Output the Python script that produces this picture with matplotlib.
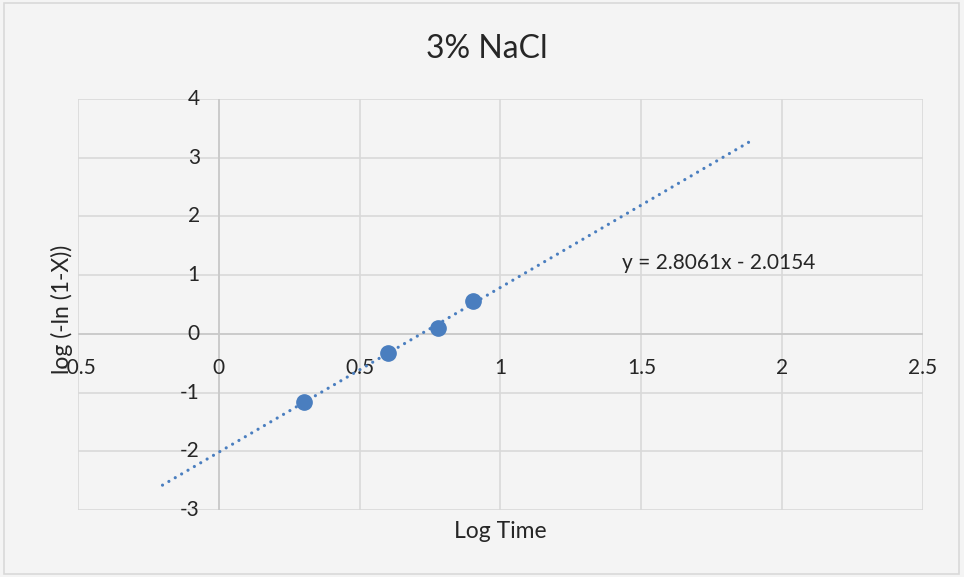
import matplotlib
matplotlib.use("Agg")
import matplotlib.pyplot as plt
import numpy as np

plt.rcParams['font.family'] = ['Lato', 'DejaVu Sans']

title = "3% NaCl"
x_label = "Log Time"
y_label = "log (-ln (1-X))"
log_time = [0.301, 0.602, 0.778, 0.903]
log_ln = [-1.153, -0.329, 0.097, 0.567]
trend_slope = 2.8061
trend_intercept = -2.0154
trend_x_range = [-0.2, 1.9]
x_ticks = [-0.5, 0, 0.5, 1, 1.5, 2, 2.5]
x_tick_labels = ["-0.5", "0", "0.5", "1", "1.5", "2", "2.5"]
y_ticks = [-3, -2, -1, 0, 1, 2, 3, 4]
y_tick_labels = ["-3", "-2", "-1", "0", "1", "2", "3", "4"]

W, H = 964, 577
fig = plt.figure(figsize=(W / 100, H / 100), dpi=100)
bg = '#f4f4f4'
fig.patch.set_facecolor(bg)
# outer border
fig.add_artist(plt.Rectangle((4 / W, 1 - 574 / H), 955 / W, 571 / H, transform=fig.transFigure,
                             fill=False, edgecolor='#d9d9d9', linewidth=1.2))

left, right, top, bottom = 78, 923, 99, 510
ax = fig.add_axes([left / W, 1 - bottom / H, (right - left) / W, (bottom - top) / H])
ax.set_facecolor(bg)
ax.set_xlim(-0.5, 2.5)
ax.set_ylim(-3, 4)
ax.set_xticks(x_ticks)
ax.set_yticks(y_ticks)
ax.set_xticklabels([])
ax.set_yticklabels([])
ax.tick_params(length=0)
ax.grid(True, color='#d9d9d9', linewidth=1.2)
ax.set_axisbelow(True)
for s in ax.spines.values():
    s.set_visible(False)
ax.axhline(0, color='#c8c8c8', linewidth=1.2, zorder=1)
ax.axvline(0, color='#c8c8c8', linewidth=1.2, zorder=1)

fs = 15
for xv, lab in zip(x_ticks, x_tick_labels):
    ax.annotate(lab, (xv, 0), xytext=(0, -34), textcoords='offset pixels',
                ha='center', va='center', fontsize=fs, color='#262626')
for yv, lab in zip(y_ticks, y_tick_labels):
    ax.annotate(lab, (0, yv), xytext=(-19, 0), textcoords='offset pixels',
                ha='right', va='center', fontsize=fs, color='#262626')

tx = np.array(trend_x_range)
ax.plot(tx, trend_slope * tx + trend_intercept, linestyle=(0, (0.01, 2.3)), linewidth=2.3,
        color='#4a7ebf', dash_capstyle='round', zorder=3)
ax.plot(log_time, log_ln, 'o', markersize=11, color='#4a7ebf', zorder=4)

ax.text(1.43, 1.2, f"y = {trend_slope}x - {abs(trend_intercept)}", fontsize=fs,
        ha='left', va='center', color='#262626')

fig.text(487 / W, 1 - 49 / H, title, ha='center', va='center', fontsize=23, color='#262626')
fig.text(500 / W, 1 - 531 / H, x_label, ha='center', va='center', fontsize=16.5, color='#262626')
fig.text(62 / W, 1 - 309 / H, y_label, ha='center', va='center', rotation=90, fontsize=16.5,
         color='#262626')

fig.savefig('out.png', dpi=100, facecolor=bg)
